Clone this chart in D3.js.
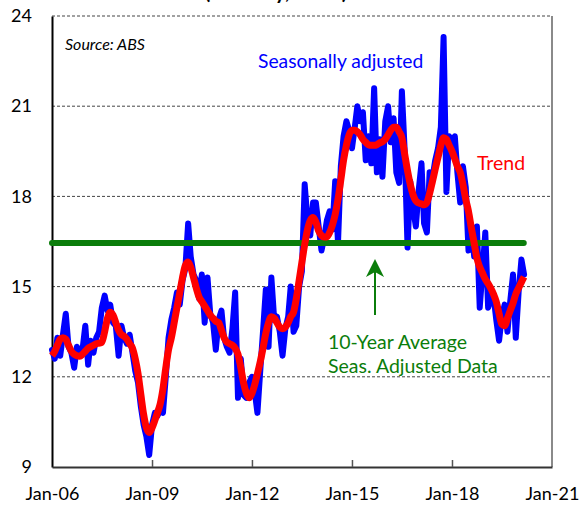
<!DOCTYPE html>
<html><head><meta charset="utf-8">
<script src="https://cdn.jsdelivr.net/npm/d3@7"></script>
<style>
body{margin:0;background:#fff;}
svg{display:block;font-family:Lato, "Open Sans", sans-serif;}
</style></head>
<body><svg id="c" width="580" height="506"></svg>
<script>
const startMonth = "2006-01";
const seasAdj = [
12.9,12.6,13.3,12.7,13.4,14.1,13.0,12.8,12.3,13.0,12.7,12.9,
13.7,12.4,13.2,12.8,13.3,13.5,14.3,14.7,14.2,14.4,13.8,13.7,
12.7,13.7,13.3,13.1,13.4,12.8,12.2,11.8,11.0,10.4,10.0,9.4,
10.4,10.8,10.7,10.9,10.8,12.0,13.3,13.9,14.3,14.8,14.4,15.2,
15.6,17.1,16.0,15.4,15.2,14.6,15.4,13.8,15.3,14.1,13.8,12.9,
13.9,14.2,13.3,13.0,12.8,13.6,14.8,11.3,12.6,11.4,11.3,11.8,
12.0,11.5,10.8,12.2,13.5,14.9,13.0,15.3,13.9,14.0,13.5,12.7,
13.6,14.0,15.0,13.5,13.7,15.0,15.5,18.4,17.2,16.7,17.8,17.8,
17.0,16.2,16.6,17.2,17.5,16.9,18.5,16.45,19.0,20.0,20.5,20.2,
19.6,20.3,21.0,20.5,20.8,19.2,20.0,19.1,21.6,18.8,19.9,18.65,
20.5,21.0,19.8,20.6,18.8,18.45,21.5,19.5,16.3,18.5,17.6,17.0,
18.2,19.1,17.1,16.8,18.8,18.6,19.2,19.6,20.3,23.3,18.15,20.0,
19.8,20.0,18.8,17.8,19.0,18.3,16.2,17.0,16.0,17.0,14.3,15.5,
16.8,14.3,14.6,14.7,13.9,13.2,14.0,14.4,13.5,14.5,15.4,13.3,
14.8,15.9,15.4
];
const trend = [
12.70,12.85,13.05,13.25,13.30,13.25,13.05,12.85,12.75,12.70,12.68,12.75,
12.85,12.95,13.00,13.05,13.10,13.12,13.15,13.50,13.95,14.15,14.05,13.80,
13.55,13.40,13.35,13.25,13.10,12.95,12.60,12.10,11.40,10.75,10.30,10.15,
10.30,10.55,10.80,11.10,11.60,12.30,12.90,13.30,13.80,14.30,14.80,15.30,
15.70,15.82,15.65,15.30,14.95,14.65,14.50,14.35,14.20,14.05,13.95,13.85,
13.80,13.55,13.30,13.15,13.10,13.05,12.95,12.75,12.30,11.80,11.45,11.30,
11.45,11.75,12.10,12.50,12.95,13.45,13.80,14.00,13.95,13.80,13.65,13.60,
13.65,13.80,14.00,14.15,14.60,15.20,15.80,16.40,16.90,17.20,17.30,17.15,
16.85,16.70,16.65,16.65,16.80,17.05,17.40,17.90,18.55,19.20,19.70,20.05,
20.20,20.20,20.15,20.05,19.90,19.80,19.72,19.70,19.70,19.72,19.78,19.82,
19.90,20.05,20.20,20.30,20.30,20.15,19.95,19.40,18.85,18.40,18.05,17.85,
17.78,17.75,17.72,17.80,18.10,18.50,18.90,19.30,19.70,19.95,19.90,19.70,
19.50,19.25,19.00,18.80,18.40,17.90,17.50,16.95,16.45,15.95,15.65,15.45,
15.25,15.10,14.95,14.75,14.50,14.10,13.75,13.70,13.95,14.20,14.45,14.75,
14.95,15.15,15.32
];
const tenYearAvg = 16.45;
const avgPeriod = ["2006-01", "2019-12"];
const yTicks = [9, 12, 15, 18, 21, 24];
const xTickYears = ["2006", "2009", "2012", "2015", "2018", "2021"];
const title = "(Monthly, '000s)";
const sourceText = "Source: ABS";
const labelSA = "Seasonally adjusted";
const labelTrend = "Trend";
const avgLabel = ["10-Year Average", "Seas. Adjusted Data"];

const svg = d3.select("#c");
const parseM = d3.timeParse("%Y-%m");
const t0 = parseM(startMonth);
const months = seasAdj.map((_, i) => d3.timeMonth.offset(t0, i));

const x = d3.scaleTime().domain([new Date(2006,0,1), new Date(2021,0,1)]).range([52, 552]);
const y = d3.scaleLinear().domain([9, 24]).range([467, 16]);

// gridlines
svg.append("g").selectAll("line").data(yTicks.filter(v => v > 9)).join("line")
  .attr("x1", 52).attr("x2", 552).attr("y1", d => y(d)).attr("y2", d => y(d))
  .attr("stroke", "#444").attr("stroke-width", 1).attr("stroke-dasharray", "3,2");

// right border
svg.append("line").attr("x1", 552).attr("x2", 552).attr("y1", y(24)).attr("y2", y(9))
  .attr("stroke", "#8a8a8a").attr("stroke-width", 2);

// y axis
const ya = svg.append("g").attr("transform", "translate(52,0)")
  .call(d3.axisLeft(y).tickValues(yTicks).tickSize(0).tickPadding(20).tickFormat(d3.format("d")));
ya.select(".domain").attr("stroke", "#000").attr("stroke-width", 2);
ya.selectAll("text").attr("font-size", 18).attr("fill", "#000").attr("font-family", "Lato, sans-serif");

// x axis
const xa = svg.append("g").attr("transform", "translate(0,467)")
  .call(d3.axisBottom(x).tickValues(xTickYears.map(s => new Date(+s, 0, 1)))
    .tickSizeInner(-7).tickSizeOuter(0).tickFormat(d3.timeFormat("%b-%y")));
xa.select(".domain").attr("stroke", "#333").attr("stroke-width", 2);
xa.selectAll(".tick line").attr("stroke", "#555").attr("stroke-width", 1.5);
xa.selectAll(".tick").filter((d, i) => i === 0 || i === xTickYears.length - 1).select("line").remove();
xa.selectAll("text").attr("y", 20).attr("font-size", 18).attr("fill", "#000").attr("font-family", "Lato, sans-serif");

// series
const line = d3.line().x((d, i) => x(months[i])).y(d => y(d));
svg.append("path").datum(seasAdj).attr("d", line)
  .attr("fill", "none").attr("stroke", "#0000ff").attr("stroke-width", 6)
  .attr("stroke-linejoin", "round").attr("stroke-linecap", "round");

svg.append("line").attr("x1", x(parseM(avgPeriod[0]))).attr("x2", x(parseM(avgPeriod[1])) + 8)
  .attr("y1", y(tenYearAvg)).attr("y2", y(tenYearAvg))
  .attr("stroke", "#0b7d0b").attr("stroke-width", 6).attr("stroke-linecap", "round");

const tline = d3.line().curve(d3.curveMonotoneX).x((d, i) => x(months[i])).y(d => y(d));
svg.append("path").datum(trend).attr("d", tline)
  .attr("fill", "none").attr("stroke", "#ff0000").attr("stroke-width", 7)
  .attr("stroke-linejoin", "round");

// arrow
svg.append("line").attr("x1", 375).attr("x2", 375).attr("y1", 315).attr("y2", 270)
  .attr("stroke", "#0b7d0b").attr("stroke-width", 2);
svg.append("path").attr("d", "M375,259 L384,277 L375,272 L366,277 Z").attr("fill", "#0b7d0b");

// text
svg.append("text").attr("x", 276).attr("y", -1).attr("text-anchor", "middle")
  .attr("font-size", 20).attr("font-weight", "bold").attr("font-family", "Lato, sans-serif").text(title);
svg.append("text").attr("x", 65).attr("y", 50).attr("font-size", 16).attr("font-style", "italic")
  .attr("font-family", "Lato, sans-serif").text(sourceText);
svg.append("text").attr("x", 258).attr("y", 68).attr("font-size", 19.3).attr("fill", "#0000ff")
  .attr("font-family", "Lato, sans-serif").text(labelSA);
svg.append("text").attr("x", 477).attr("y", 170).attr("font-size", 19.5).attr("fill", "#ff0000")
  .attr("font-family", "Lato, sans-serif").text(labelTrend);
svg.append("text").attr("x", 328).attr("y", 349).attr("font-size", 19.5).attr("fill", "#0b7d0b")
  .attr("font-family", "Lato, sans-serif").text(avgLabel[0]);
svg.append("text").attr("x", 328).attr("y", 373).attr("font-size", 19.5).attr("fill", "#0b7d0b")
  .attr("font-family", "Lato, sans-serif").text(avgLabel[1]);
</script></body></html>
